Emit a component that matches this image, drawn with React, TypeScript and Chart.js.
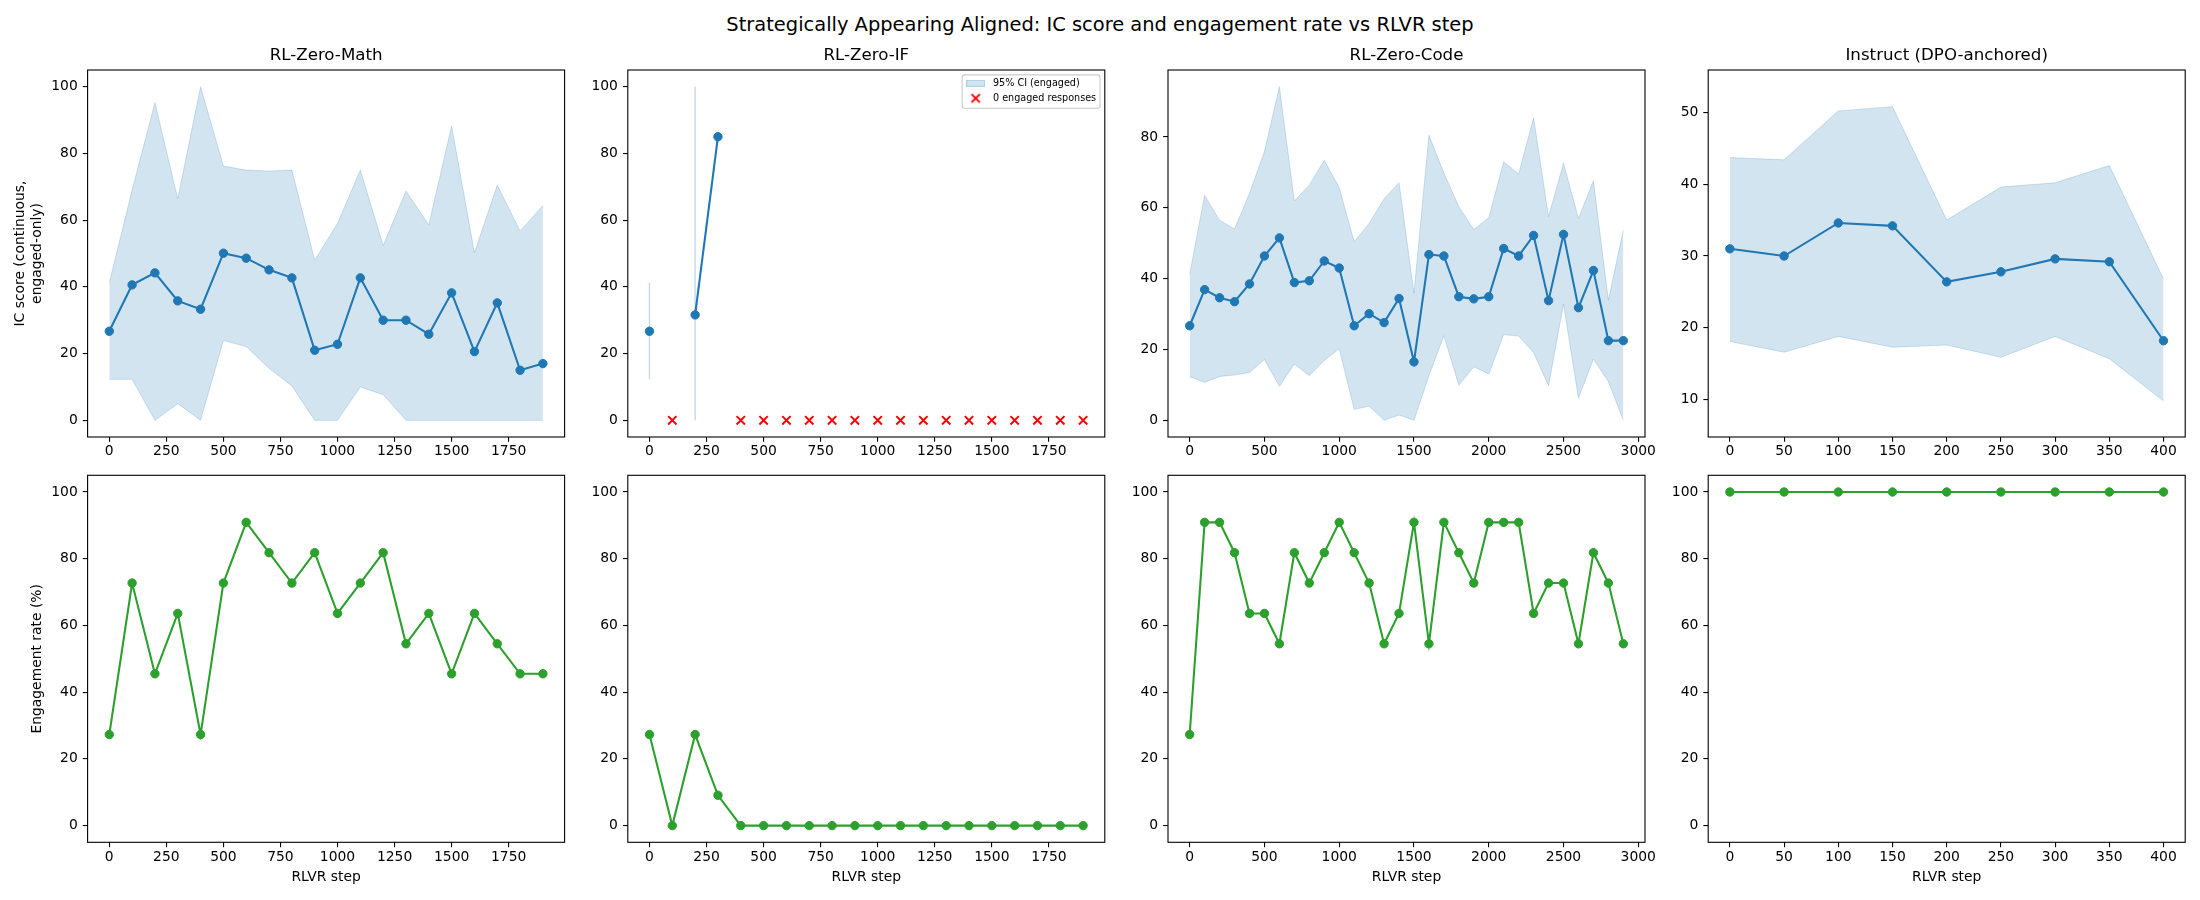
import React, { useEffect, useRef } from 'react';
import { Chart, registerables } from 'chart.js';

Chart.register(...registerables);

const FONT = "'DejaVu Sans', 'Liberation Sans', sans-serif";

// ---------------- data ----------------
const MATH_STEPS = [0, 100, 200, 300, 400, 500, 600, 700, 800, 900, 1000, 1100, 1200, 1300, 1400, 1500, 1600, 1700, 1800, 1900];
const MATH_IC = [26.7, 40.6, 44.2, 35.8, 33.3, 50.1, 48.6, 45.1, 42.7, 21.0, 22.8, 42.7, 30.0, 30.0, 25.8, 38.2, 20.6, 35.2, 15.0, 17.0];
const MATH_HI = [41.2, 69.0, 95.2, 66.4, 100.0, 76.2, 75.0, 74.7, 75.0, 48.0, 59.0, 75.0, 52.4, 68.7, 58.6, 88.2, 50.2, 70.5, 56.7, 64.4];
const MATH_LO = [12.3, 12.3, 0.0, 5.0, 0.0, 23.9, 22.1, 15.6, 10.3, 0.0, 0.0, 10.0, 7.7, 0.0, 0.0, 0.0, 0.0, 0.0, 0.0, 0.0];
const MATH_ENG = [27.3, 72.7, 45.5, 63.6, 27.3, 72.7, 90.9, 81.8, 72.7, 81.8, 63.6, 72.7, 81.8, 54.5, 63.6, 45.5, 63.6, 54.5, 45.5, 45.5];

const IF_STEPS = [0, 100, 200, 300, 400, 500, 600, 700, 800, 900, 1000, 1100, 1200, 1300, 1400, 1500, 1600, 1700, 1800, 1900];
const IF_IC = [26.7, null, 31.6, 85.0, null, null, null, null, null, null, null, null, null, null, null, null, null, null, null, null];
const IF_HI = [41.2, null, 100.0, null, null, null, null, null, null, null, null, null, null, null, null, null, null, null, null, null];
const IF_LO = [12.3, null, 0.0, null, null, null, null, null, null, null, null, null, null, null, null, null, null, null, null, null];
const IF_ENG = [27.3, 0, 27.3, 9.1, 0, 0, 0, 0, 0, 0, 0, 0, 0, 0, 0, 0, 0, 0, 0, 0];

const CODE_STEPS = [0, 100, 200, 300, 400, 500, 600, 700, 800, 900, 1000, 1100, 1200, 1300, 1400, 1500, 1600, 1700, 1800, 1900, 2000, 2100, 2200, 2300, 2400, 2500, 2600, 2700, 2800, 2900];
const CODE_IC = [26.7, 36.9, 34.6, 33.5, 38.5, 46.4, 51.5, 38.9, 39.4, 45.0, 43.0, 26.7, 30.1, 27.6, 34.4, 16.5, 46.8, 46.4, 34.9, 34.3, 34.9, 48.5, 46.4, 52.2, 33.8, 52.5, 31.8, 42.3, 22.5, 22.5];
const CODE_HI = [41.2, 63.5, 56.5, 54.0, 64.1, 75.9, 94.2, 61.9, 66.4, 73.4, 65.7, 50.4, 55.6, 62.5, 67.1, 35.9, 80.5, 69.8, 60.3, 53.9, 57.2, 73.0, 69.5, 85.4, 57.5, 72.6, 57.0, 67.6, 33.9, 53.7];
const CODE_LO = [12.3, 10.7, 12.4, 12.8, 13.5, 17.2, 9.6, 15.9, 12.6, 16.9, 20.2, 3.1, 4.0, 0.0, 1.5, 0.0, 12.6, 23.9, 9.9, 15.1, 13.1, 24.2, 23.8, 19.1, 9.8, 32.8, 6.3, 17.3, 10.9, 0.0];
const CODE_ENG = [27.3, 90.9, 90.9, 81.8, 63.6, 63.6, 54.5, 81.8, 72.7, 81.8, 90.9, 81.8, 72.7, 54.5, 63.6, 90.9, 54.5, 90.9, 81.8, 72.7, 90.9, 90.9, 90.9, 63.6, 72.7, 72.7, 54.5, 81.8, 72.7, 54.5];

const INS_STEPS = [0, 50, 100, 150, 200, 250, 300, 350, 400];
const INS_IC = [31.0, 30.0, 34.6, 34.2, 26.4, 27.8, 29.6, 29.2, 18.2];
const INS_HI = [43.7, 43.4, 50.2, 50.8, 35.0, 39.6, 40.2, 42.6, 26.8];
const INS_LO = [18.1, 16.6, 18.8, 17.3, 17.6, 15.9, 18.8, 15.7, 9.8];
const INS_ENG = [100, 100, 100, 100, 100, 100, 100, 100, 100];

// ---------------- ticks & text ----------------
const X_TICKS_MATH = [0, 250, 500, 750, 1000, 1250, 1500, 1750];
const X_TICKS_IF = [0, 250, 500, 750, 1000, 1250, 1500, 1750];
const X_TICKS_CODE = [0, 500, 1000, 1500, 2000, 2500, 3000];
const X_TICKS_INS = [0, 50, 100, 150, 200, 250, 300, 350, 400];
const Y_TICKS_PCT = [0, 20, 40, 60, 80, 100];
const Y_TICKS_CODE = [0, 20, 40, 60, 80];
const Y_TICKS_INS = [10, 20, 30, 40, 50];

const SUPTITLE = 'Strategically Appearing Aligned: IC score and engagement rate vs RLVR step';
const TITLES = ['RL-Zero-Math', 'RL-Zero-IF', 'RL-Zero-Code', 'Instruct (DPO-anchored)'];
const Y_LABEL_IC = ['IC score (continuous,', 'engaged-only)'];
const Y_LABEL_ENG = 'Engagement rate (%)';
const X_LABEL = 'RLVR step';
const LEGEND_CI = '95% CI (engaged)';
const LEGEND_ZERO = '0 engaged responses';

// ---------------- styles / layout ----------------
const BLUE = '#1f77b4';
const GREEN = '#2ca02c';
const CI_FILL = 'rgba(31,119,180,0.2)';
const CI_EDGE = 'rgba(31,119,180,0.2)';
const CI_SEG = 'rgba(31,119,180,0.28)';

const AREA_LEFT = [87.6, 627.8, 1168.0, 1708.2];
const AREA_W = 477;
const AREA_H = 367;
const ROW2_TOP = 475.3;
const Y_AXIS_W = 80;
const CANVAS_W = 572;
const TICK_FONT = 13.89;
const LEG_FONT = 9.64;

function toPoints(steps: number[], vals: (number | null)[]) {
  return steps.map((s, i) => ({ x: s, y: vals[i] }));
}

function icDatasets(steps: number[], mean: (number | null)[], lo: (number | null)[], hi: (number | null)[], markMissing: boolean) {
  const ds: any[] = [
    {
      label: 'IC', data: toPoints(steps, mean), borderColor: BLUE, backgroundColor: BLUE, borderWidth: 2.08,
      pointRadius: 4.2, pointBorderWidth: 1, pointBackgroundColor: BLUE, pointBorderColor: BLUE, fill: false, order: 0,
    },
    { label: 'ci-lo', data: toPoints(steps, lo), borderColor: CI_EDGE, borderWidth: 1, pointRadius: 0, fill: false, order: 2 },
    {
      label: LEGEND_CI, data: toPoints(steps, hi), borderColor: CI_EDGE, borderWidth: 1, pointRadius: 0,
      backgroundColor: CI_FILL, fill: 1, order: 2,
    },
  ];
  steps.forEach((s, i) => {
    if (lo[i] == null || hi[i] == null) return;
    const prevOk = i > 0 && lo[i - 1] != null && hi[i - 1] != null;
    const nextOk = i < steps.length - 1 && lo[i + 1] != null && hi[i + 1] != null;
    if (!prevOk && !nextOk) {
      ds.push({
        label: 'ci-seg', data: [{ x: s, y: lo[i] }, { x: s, y: hi[i] }], borderColor: CI_SEG, borderWidth: 1.4,
        pointRadius: 0, fill: false, order: 2,
      });
    }
  });
  if (markMissing) {
    const miss = steps.filter((_, i) => mean[i] == null).map((s) => ({ x: s, y: 0 }));
    ds.push({
      label: LEGEND_ZERO, data: miss, showLine: false, pointStyle: 'crossRot', pointRadius: 5.9,
      pointBorderWidth: 2, pointBorderColor: '#ff0000', borderColor: '#ff0000', backgroundColor: '#ff0000', order: -1,
    });
  }
  return ds;
}

function engDatasets(steps: number[], eng: number[]) {
  return [{
    label: 'eng', data: toPoints(steps, eng), borderColor: GREEN, backgroundColor: GREEN, borderWidth: 2.08,
    pointRadius: 4.2, pointBorderWidth: 1, pointBackgroundColor: GREEN, pointBorderColor: GREEN, fill: false,
  }];
}

type Spec = {
  col: number; row: number; title?: string;
  yLabel?: string | string[]; yLabelPad: number; xLabel?: string;
  xMin: number; xMax: number; yMin: number; yMax: number;
  xTicks: number[]; yTicks: number[]; legend?: boolean;
  build: () => any[];
};

const SPECS: Spec[] = [
  { col: 0, row: 0, title: TITLES[0], yLabel: Y_LABEL_IC, yLabelPad: 4.76, xMin: -95, xMax: 1995, yMin: -5, yMax: 105, xTicks: X_TICKS_MATH, yTicks: Y_TICKS_PCT, build: () => icDatasets(MATH_STEPS, MATH_IC, MATH_LO, MATH_HI, false) },
  { col: 1, row: 0, title: TITLES[1], yLabelPad: 0, xMin: -95, xMax: 1995, yMin: -5, yMax: 105, xTicks: X_TICKS_IF, yTicks: Y_TICKS_PCT, legend: true, build: () => icDatasets(IF_STEPS, IF_IC, IF_LO, IF_HI, true) },
  { col: 2, row: 0, title: TITLES[2], yLabelPad: 0, xMin: -145, xMax: 3045, yMin: -4.7, yMax: 98.9, xTicks: X_TICKS_CODE, yTicks: Y_TICKS_CODE, build: () => icDatasets(CODE_STEPS, CODE_IC, CODE_LO, CODE_HI, false) },
  { col: 3, row: 0, title: TITLES[3], yLabelPad: 0, xMin: -20, xMax: 420, yMin: 4.8, yMax: 55.9, xTicks: X_TICKS_INS, yTicks: Y_TICKS_INS, build: () => icDatasets(INS_STEPS, INS_IC, INS_LO, INS_HI, false) },
  { col: 0, row: 1, yLabel: Y_LABEL_ENG, yLabelPad: 21.46, xLabel: X_LABEL, xMin: -95, xMax: 1995, yMin: -5, yMax: 105, xTicks: X_TICKS_MATH, yTicks: Y_TICKS_PCT, build: () => engDatasets(MATH_STEPS, MATH_ENG) },
  { col: 1, row: 1, yLabelPad: 0, xLabel: X_LABEL, xMin: -95, xMax: 1995, yMin: -5, yMax: 105, xTicks: X_TICKS_IF, yTicks: Y_TICKS_PCT, build: () => engDatasets(IF_STEPS, IF_ENG) },
  { col: 2, row: 1, yLabelPad: 0, xLabel: X_LABEL, xMin: -145, xMax: 3045, yMin: -5, yMax: 105, xTicks: X_TICKS_CODE, yTicks: Y_TICKS_PCT, build: () => engDatasets(CODE_STEPS, CODE_ENG) },
  { col: 3, row: 1, yLabelPad: 0, xLabel: X_LABEL, xMin: -20, xMax: 420, yMin: -5, yMax: 105, xTicks: X_TICKS_INS, yTicks: Y_TICKS_PCT, build: () => engDatasets(INS_STEPS, INS_ENG) },
];

// legend icons
let patchIcon: HTMLCanvasElement | null = null;
let crossIcon: HTMLCanvasElement | null = null;
function icons() {
  if (!patchIcon) {
    patchIcon = document.createElement('canvas');
    patchIcon.width = 19; patchIcon.height = 7;
    const c = patchIcon.getContext('2d')!;
    c.fillStyle = CI_FILL; c.fillRect(0, 0, 19, 7);
    c.strokeStyle = CI_EDGE; c.lineWidth = 1; c.strokeRect(0.5, 0.5, 18, 6);
  }
  if (!crossIcon) {
    crossIcon = document.createElement('canvas');
    crossIcon.width = 12; crossIcon.height = 12;
    const c = crossIcon.getContext('2d')!;
    c.strokeStyle = '#ff0000'; c.lineWidth = 2;
    c.beginPath();
    c.moveTo(1.85, 1.85); c.lineTo(10.15, 10.15);
    c.moveTo(10.15, 1.85); c.lineTo(1.85, 10.15);
    c.stroke();
  }
  return { patch: patchIcon, cross: crossIcon };
}

const framePlugin = {
  id: 'mplFrame',
  afterDraw(chart: any) {
    const { ctx, chartArea: a } = chart;
    ctx.save();
    ctx.strokeStyle = '#000';
    ctx.lineWidth = 1.1;
    ctx.strokeRect(a.left, a.top, a.right - a.left, a.bottom - a.top);
    ctx.restore();
  },
};

const legendPlacePlugin = {
  id: 'legendPlace',
  beforeDraw(chart: any) {
    const lg = chart.legend;
    const a = chart.chartArea;
    const ctx = chart.ctx;
    ctx.save();
    ctx.font = `${LEG_FONT}px ${FONT}`;
    const tw = Math.max(ctx.measureText(LEGEND_CI).width, ctx.measureText(LEGEND_ZERO).width);
    ctx.restore();
    const fw = 3.86 + 19.3 + 7.7 + tw + 3.86;
    const fr = a.right - 4.82;
    const fl = fr - fw;
    chart.$lframe = { l: fl, t: a.top + 4.9, w: fw, h: 33.4 };
    const iconC = fl + 3.86 + 9.65;
    if (lg) {
      const w = lg.width;
      lg.left = iconC - 5.36 - 12.53;
      lg.right = lg.left + w + 30;
      lg.top = a.top + 3.1;
      lg.bottom = lg.top + 60;
    }
  },
  afterDraw(chart: any) {
    const f = chart.$lframe;
    if (!f) return;
    const ctx = chart.ctx;
    const r = 2.5;
    ctx.save();
    ctx.strokeStyle = '#cccccc';
    ctx.lineWidth = 1.1;
    ctx.beginPath();
    ctx.moveTo(f.l + r, f.t);
    ctx.lineTo(f.l + f.w - r, f.t);
    ctx.quadraticCurveTo(f.l + f.w, f.t, f.l + f.w, f.t + r);
    ctx.lineTo(f.l + f.w, f.t + f.h - r);
    ctx.quadraticCurveTo(f.l + f.w, f.t + f.h, f.l + f.w - r, f.t + f.h);
    ctx.lineTo(f.l + r, f.t + f.h);
    ctx.quadraticCurveTo(f.l, f.t + f.h, f.l, f.t + f.h - r);
    ctx.lineTo(f.l, f.t + r);
    ctx.quadraticCurveTo(f.l, f.t, f.l + r, f.t);
    ctx.closePath();
    ctx.stroke();
    ctx.restore();
  },
};

function PanelChart({ spec }: { spec: Spec }) {
  const ref = useRef<HTMLCanvasElement>(null);
  const L = AREA_LEFT[spec.col];
  const canvasLeft = Math.floor(L - Y_AXIS_W);
  const padL = L - Y_AXIS_W - canvasLeft;
  const padR = CANVAS_W - padL - Y_AXIS_W - AREA_W;
  const isTop = spec.row === 0;
  const xH = isTop ? 40 : 50;
  const canvasTop = isTop ? 40 : 455;
  const H = isTop ? 437 : 438;
  const padT = isTop ? 0 : ROW2_TOP - canvasTop;
  const padB = H - (isTop ? 30 : padT) - AREA_H - xH;

  useEffect(() => {
    if (!ref.current) return;
    const tickFont = { family: FONT, size: TICK_FONT, lineHeight: 1.2 };
    const grid = { display: true, drawOnChartArea: false, drawTicks: true, tickLength: 4.86, lineWidth: 1.1, color: '#000' };
    const ic = icons();
    const chart = new Chart(ref.current, {
      type: 'line',
      data: { datasets: spec.build() },
      options: {
        animation: false,
        responsive: false,
        events: [],
        layout: { padding: { left: padL, right: padR, top: padT, bottom: padB } },
        plugins: {
          tooltip: { enabled: false },
          title: {
            display: !!spec.title,
            text: spec.title || '',
            fullSize: false,
            color: '#000',
            font: { family: FONT, size: 16.67, weight: 'normal', lineHeight: 1.2 },
            padding: { top: 5.8, bottom: 4.2 },
          },
          legend: spec.legend ? {
            display: true,
            position: 'chartArea',
            align: 'start',
            labels: {
              usePointStyle: true,
              pointStyleWidth: 25.06,
              padding: 5.36,
              color: '#000',
              font: { family: FONT, size: LEG_FONT },
              generateLabels: () => [
                { text: LEGEND_CI, pointStyle: ic.patch, fillStyle: CI_FILL, strokeStyle: 'rgba(0,0,0,0)', lineWidth: 0, hidden: false, datasetIndex: 2, fontColor: '#000', textAlign: 'left' },
                { text: LEGEND_ZERO, pointStyle: ic.cross, fillStyle: '#ff0000', strokeStyle: 'rgba(0,0,0,0)', lineWidth: 0, hidden: false, datasetIndex: 3, fontColor: '#000', textAlign: 'left' },
              ],
            },
          } : { display: false },
        },
        scales: {
          x: {
            type: 'linear',
            min: spec.xMin,
            max: spec.xMax,
            afterBuildTicks: (s: any) => { s.ticks = spec.xTicks.map((v) => ({ value: v })); },
            afterFit: (s: any) => { s.height = xH; },
            ticks: { callback: (v: any) => String(v), font: tickFont, color: '#000', padding: 1.5, maxRotation: 0, minRotation: 0, autoSkip: false },
            grid,
            border: { display: false },
            title: {
              display: !!spec.xLabel,
              text: spec.xLabel || '',
              color: '#000',
              font: { family: FONT, size: TICK_FONT, lineHeight: 1.2 },
              padding: { top: 0, bottom: 7 },
            },
          },
          y: {
            type: 'linear',
            min: spec.yMin,
            max: spec.yMax,
            afterBuildTicks: (s: any) => { s.ticks = spec.yTicks.map((v) => ({ value: v })); },
            afterFit: (s: any) => { s.width = Y_AXIS_W; },
            ticks: { callback: (v: any) => String(v), font: tickFont, color: '#000', padding: 5, autoSkip: false },
            grid,
            border: { display: false },
            title: {
              display: !!spec.yLabel,
              text: spec.yLabel || '',
              color: '#000',
              font: { family: FONT, size: TICK_FONT, lineHeight: 1.2 },
              padding: { top: spec.yLabelPad, bottom: 0 },
            },
          },
        },
      } as any,
      plugins: spec.legend ? [framePlugin, legendPlacePlugin] : [framePlugin],
    } as any);
    return () => chart.destroy();
  }, []);

  return (
    <canvas
      ref={ref}
      width={CANVAS_W}
      height={H}
      style={{ position: 'absolute', left: canvasLeft, top: canvasTop, width: CANVAS_W, height: H }}
    />
  );
}

export default function App() {
  useEffect(() => {
    document.body.style.margin = '0';
  }, []);
  return (
    <div style={{ position: 'absolute', left: 0, top: 0, width: 2200, height: 900, overflow: 'hidden', background: '#fff', fontFamily: FONT }}>
      <div style={{ position: 'absolute', left: 0, top: 15.1, width: 2200, textAlign: 'center', fontSize: 19.44, lineHeight: '19.44px', color: '#000', whiteSpace: 'nowrap' }}>
        {SUPTITLE}
      </div>
      {SPECS.map((s, i) => <PanelChart key={i} spec={s} />)}
    </div>
  );
}
